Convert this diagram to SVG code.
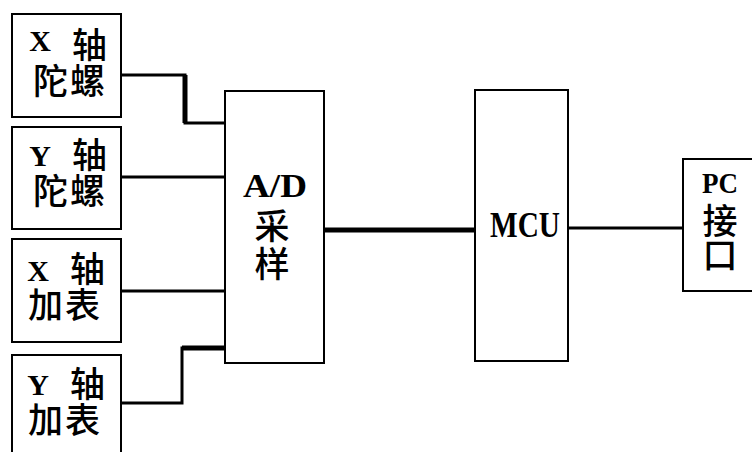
<svg xmlns="http://www.w3.org/2000/svg" width="752" height="452" viewBox="0 0 752 452">
<style>
.box{fill:#fff;stroke:#000;stroke-width:2}
.lat{font-family:"Liberation Serif","DejaVu Serif",serif;font-weight:bold;fill:#000}
.cjk{font-family:"Noto Sans CJK SC","Noto Sans CJK TC",sans-serif;font-size:35px;font-weight:500;fill:#000}
.pair{letter-spacing:2px}
.w{fill:none;stroke:#000;stroke-linejoin:miter}
</style>
<rect width="752" height="452" fill="#fff"/>
<g id="connectors">
<polyline class="w" stroke-width="3" points="121,75 185,75 185,123 225,123"/>
<line class="w" stroke-width="5" x1="185" y1="75" x2="185" y2="123"/>
<line class="w" stroke-width="3" x1="121" y1="177" x2="225" y2="177"/>
<line class="w" stroke-width="3" x1="121" y1="291" x2="225" y2="291"/>
<polyline class="w" stroke-width="3" points="121,403 182,403 182,348 225,348"/>
<line class="w" stroke-width="5" x1="182" y1="348" x2="225" y2="348"/>
<line class="w" stroke-width="5" x1="324" y1="230" x2="475" y2="230"/>
<line class="w" stroke-width="3" x1="568" y1="228" x2="683" y2="228"/>
</g>
<g id="x-gyro">
<rect class="box" x="12" y="14" width="109" height="103"/>
<text class="lat" x="40" y="51" font-size="30" text-anchor="middle">X</text>
<text class="cjk" x="72" y="58">轴</text>
<text class="cjk pair" x="33" y="94">陀螺</text>
</g>
<g id="y-gyro">
<rect class="box" x="12" y="127" width="109" height="102"/>
<text class="lat" x="40" y="166" font-size="30" text-anchor="middle">Y</text>
<text class="cjk" x="72" y="168">轴</text>
<text class="cjk pair" x="33" y="204">陀螺</text>
</g>
<g id="x-accel">
<rect class="box" x="12" y="239" width="109" height="103"/>
<text class="lat" x="38" y="281" font-size="30" text-anchor="middle">X</text>
<text class="cjk" x="70" y="282">轴</text>
<text class="cjk pair" x="28" y="318">加表</text>
</g>
<g id="y-accel">
<rect class="box" x="12" y="355" width="109" height="110"/>
<text class="lat" x="38" y="395" font-size="30" text-anchor="middle">Y</text>
<text class="cjk" x="70" y="397">轴</text>
<text class="cjk pair" x="28" y="433">加表</text>
</g>
<g id="ad">
<rect class="box" x="225" y="91" width="99" height="272"/>
<text class="lat" x="275" y="197" font-size="33" text-anchor="middle" textLength="64" lengthAdjust="spacingAndGlyphs">A/D</text>
<text class="cjk" x="272" y="239" text-anchor="middle" font-size="35">采</text>
<text class="cjk" x="272" y="277" text-anchor="middle" font-size="35">样</text>
</g>
<g id="mcu">
<rect class="box" x="475" y="90" width="93" height="271"/>
<text class="lat" x="525" y="237" font-size="35" text-anchor="middle" textLength="70" lengthAdjust="spacingAndGlyphs">MCU</text>
</g>
<g id="pc">
<rect class="box" x="683" y="159" width="80" height="132"/>
<text class="lat" x="720" y="193" font-size="30" text-anchor="middle" textLength="36" lengthAdjust="spacingAndGlyphs">PC</text>
<text class="cjk" x="720" y="234" text-anchor="middle" font-size="34">接</text>
<text class="cjk" x="720" y="268" text-anchor="middle" font-size="34">口</text>
</g>
</svg>
